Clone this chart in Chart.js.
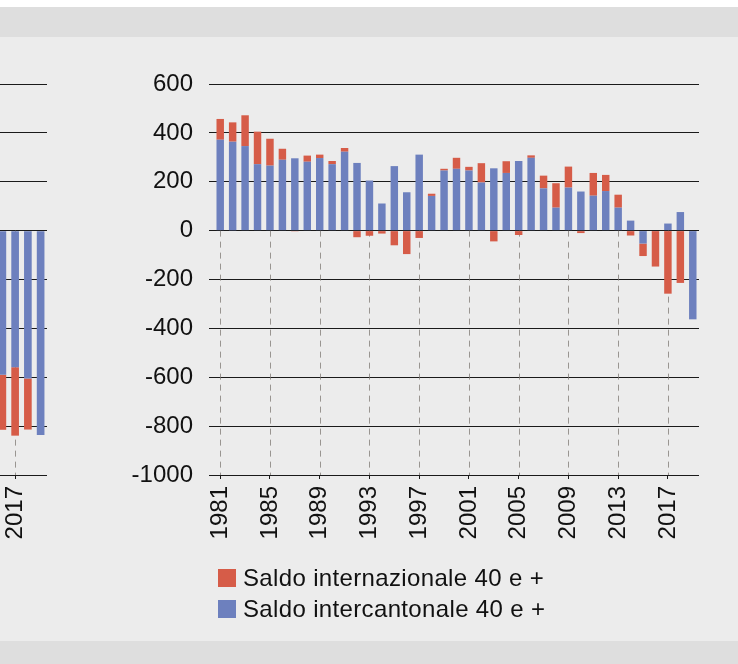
<!DOCTYPE html>
<html>
<head>
<meta charset="utf-8">
<script src="https://cdn.jsdelivr.net/npm/chart.js@4.4.1/dist/chart.umd.min.js"></script>
<style>
html,body{margin:0;padding:0;}
body{width:738px;height:664px;background:#ececec;position:relative;overflow:hidden;font-family:'Liberation Sans',Arial,sans-serif;}
#topw{position:absolute;left:0;top:0;width:738px;height:7px;background:#ffffff;}
#topb{position:absolute;left:0;top:7px;width:738px;height:30px;background:#dedede;}
#botb{position:absolute;left:0;top:641px;width:738px;height:23px;background:#dedede;}
canvas{position:absolute;}
#c1{left:100px;top:37px;}
#c0{left:-200px;top:37px;}
.sw{position:absolute;left:218px;width:18px;height:18px;}
.lt{position:absolute;left:243px;font-size:24px;line-height:24px;letter-spacing:0.35px;color:#111;white-space:nowrap;}
</style>
</head>
<body>
<div id="topw"></div>
<div id="topb"></div>
<div id="botb"></div>
<canvas id="c0" width="260" height="540"></canvas>
<canvas id="c1" width="620" height="540"></canvas>
<div class="sw" style="top:569px;background:#d65c48;"></div>
<div class="lt" style="top:566px;">Saldo internazionale 40 e +</div>
<div class="sw" style="top:600px;background:#6d80be;"></div>
<div class="lt" style="top:597px;">Saldo intercantonale 40 e +</div>
<script>
// ---- data (right panel) ----
const years = ['1981','1982','1983','1984','1985','1986','1987','1988','1989','1990',
  '1991','1992','1993','1994','1995','1996','1997','1998','1999','2000',
  '2001','2002','2003','2004','2005','2006','2007','2008','2009','2010',
  '2011','2012','2013','2014','2015','2016','2017','2018','2019'];
const intercantonale = [372,364,346,272,266,290,296,282,297,272,
  323,277,205,111,264,157,311,142,246,253,
  246,197,255,236,285,298,173,94,176,160,
  143,162,94,41,-53,0,29,76,-363];
const internazionale = [85,79,126,133,110,45,-3,25,14,13,
  15,-27,-21,-12,-60,-96,-30,9,7,45,
  15,79,-44,48,-18,10,52,100,86,-10,
  93,66,53,-20,-51,-147,-258,-214,0];
// ---- data (left, partially visible panel) ----
const leftYears = ['2016','2017','2018','2019'];
const leftIntercantonale = [-590,-559,-605,-836];
const leftInternazionale = [-225,-280,-209,0];
// ---- axis ----
const yMin = -1000, yMax = 600, yStep = 200;
const firstLabelYear = 1981, labelEvery = 4;

const RED = '#d65c48', BLUE = '#6d80be';
const TXT = '#111111';

const dashPlugin = {
  id: 'dash',
  beforeDatasetsDraw(chart) {
    const {ctx, chartArea, scales} = chart;
    const x = scales.x, y = scales.y;
    const y0 = y.getPixelForValue(0);
    ctx.save();
    ctx.strokeStyle = 'rgba(125,120,115,0.75)';
    ctx.lineWidth = 1;
    ctx.setLineDash([6, 5]);
    chart.data.labels.forEach((lab, i) => {
      if ((+lab - firstLabelYear) % labelEvery === 0) {
        const px = Math.round(x.getPixelForValue(i)) + 0.5;
        ctx.beginPath();
        ctx.moveTo(px, y0);
        ctx.lineTo(px, chartArea.bottom);
        ctx.stroke();
      }
    });
    ctx.restore();
  }
};

function makeChart(id, labels, blue, red, padRight, yWidth) {
  return new Chart(document.getElementById(id), {
    type: 'bar',
    data: {
      labels: labels,
      datasets: [
        {label: 'Saldo intercantonale 40 e +', data: blue, backgroundColor: BLUE,
         barPercentage: 0.6, categoryPercentage: 1, borderWidth: 0},
        {label: 'Saldo internazionale 40 e +', data: red, backgroundColor: RED,
         barPercentage: 0.6, categoryPercentage: 1, borderWidth: 0}
      ]
    },
    options: {
      responsive: false,
      animation: false,
      devicePixelRatio: 1,
      layout: {padding: {top: 47, right: padRight, left: 0, bottom: 0}},
      plugins: {legend: {display: false}, tooltip: {enabled: false}},
      scales: {
        x: {
          stacked: true,
          grid: {display: true, drawOnChartArea: false, drawTicks: true, tickLength: 4,
                 offset: false, color: '#1a1a1a', lineWidth: 1},
          border: {display: false},
          ticks: {
            autoSkip: false, maxRotation: 90, minRotation: 90, padding: 7,
            color: TXT, font: {family: "'Liberation Sans', Arial, sans-serif", size: 24},
            callback: (v, i) => ((+labels[i] - firstLabelYear) % labelEvery === 0 ? labels[i] : null)
          },
          afterFit: s => { s.height = 102; }
        },
        y: {
          stacked: true,
          min: yMin, max: yMax,
          grid: {color: '#1a1a1a', tickLength: 5, lineWidth: 1},
          border: {display: false},
          ticks: {
            stepSize: yStep, padding: 16, color: TXT,
            font: {family: "'Liberation Sans', Arial, sans-serif", size: 24},
            callback: v => String(v)
          },
          afterFit: s => { s.width = yWidth; }
        }
      }
    },
    plugins: [dashPlugin]
  });
}

makeChart('c1', years, intercantonale, internazionale, 21, 114);
makeChart('c0', leftYears, leftIntercantonale, leftInternazionale, 13, 196);
</script>
</body>
</html>
